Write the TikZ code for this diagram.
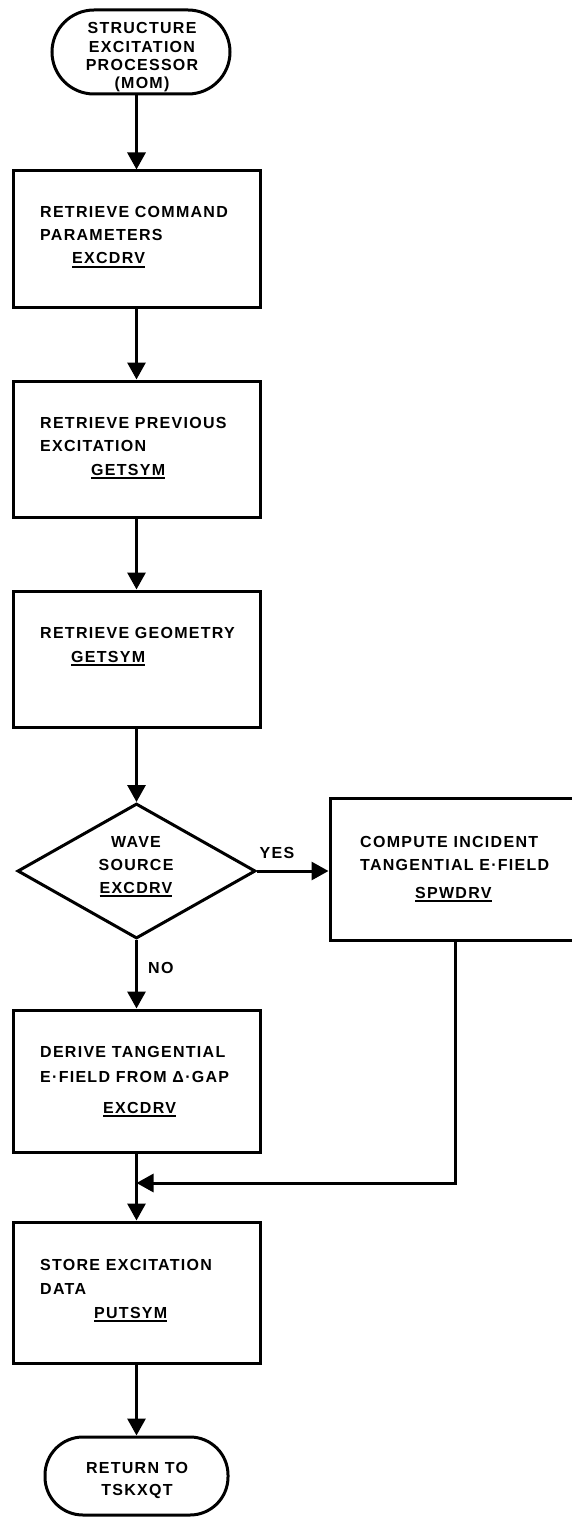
\documentclass[tikz,border=0pt]{standalone}
\usepackage{fontspec}
\setmainfont{Liberation Sans}[LetterSpace=8]
\usetikzlibrary{shapes.geometric,arrows.meta}
% underlined routine name
\newcommand\nm[1]{\setbox0\hbox{#1}\rlap{\rule[-3.8pt]{\wd0}{1.8pt}}\box0}
% one centred line of zero width
\newcommand\cl[1]{\hbox to 0pt{\hss#1\hss}}
\begin{document}
\begin{tikzpicture}[x=1pt,y=-1pt,
  line join=miter,
  shp/.style={draw, line width=3pt, inner sep=0pt},
  box/.style={shp, rectangle, minimum width=247pt},
  term/.style={shp, rectangle},
  txt/.style={inner sep=0pt, font=\fontsize{16}{19}\selectfont\bfseries},
  ltxt/.style={txt, anchor=base west},
  ctxt/.style={txt, anchor=base},
  arr/.style={line width=3pt, -{Triangle[length=17pt,width=18pt]}}]
\useasboundingbox (0,0) rectangle (572,1522);

% shapes
\node[term, minimum width=178pt, minimum height=84pt, rounded corners=42pt] (start) at (141,52) {};
\node[box, minimum height=136pt] (b1) at (136.5,239) {};
\node[box, minimum height=136pt] (b2) at (136.5,449) {};
\node[box, minimum height=136pt] (b3) at (136.5,659) {};
\node[shp, diamond, minimum width=238pt, minimum height=135pt] (dia) at (136.5,871) {};
\node[shp, rectangle, minimum width=250pt, minimum height=142pt] (rb) at (455,869) {};
\node[box, minimum height=142pt] (b4) at (136.5,1081) {};
\node[box, minimum height=141pt] (b5) at (136.5,1292.5) {};
\node[term, minimum width=183pt, minimum height=78pt, rounded corners=38pt] (ret) at (136.5,1476) {};

% texts
\node[ctxt] (tstart) at (142,34) {\vtop{\baselineskip=18.3pt
  \cl{STRUCTURE}\cl{EXCITATION}\cl{PROCESSOR}\cl{(MOM)}}};
\node[ltxt] (t1) at (40,218) {\vtop{\baselineskip=23pt
  \hbox{RETRIEVE COMMAND}\hbox{PARAMETERS}\hbox{\hskip32pt\nm{EXCDRV}}}};
\node[ltxt] (t2) at (40,428) {\vtop{\baselineskip=23.5pt
  \hbox{RETRIEVE PREVIOUS}\hbox{EXCITATION}\hbox{\hskip51pt\nm{GETSYM}}}};
\node[ltxt] (t3) at (40,638) {\vtop{\baselineskip=24pt
  \hbox{RETRIEVE GEOMETRY}\hbox{\hskip31pt\nm{GETSYM}}}};
\node[ctxt] (tdia) at (136,847) {\vtop{\baselineskip=23pt
  \cl{WAVE}\cl{SOURCE}\cl{\nm{EXCDRV}}}};
\node[ltxt] (trb) at (360,847) {\vtop{\baselineskip=23pt
  \hbox{COMPUTE INCIDENT}\hbox{TANGENTIAL E·FIELD}\vskip5pt\hbox{\hskip55pt\nm{SPWDRV}}}};
\node[ltxt] (t4) at (40,1057) {\vtop{\baselineskip=25pt
  \hbox{DERIVE TANGENTIAL}\hbox{E·FIELD FROM Δ·GAP}\vskip6pt\hbox{\hskip63pt\nm{EXCDRV}}}};
\node[ltxt] (t5) at (40,1270) {\vtop{\baselineskip=24pt
  \hbox{STORE EXCITATION}\hbox{DATA}\hbox{\hskip54pt\nm{PUTSYM}}}};
\node[ctxt] (tret) at (137,1473) {\vtop{\baselineskip=22pt
  \cl{RETURN TO}\cl{TSKXQT}}};
\node[ctxt] (yes) at (277,858) {YES};
\node[ltxt] (no) at (148,973) {NO};

% connectors
\coordinate (mj) at (136.5,1183);
\draw[arr] (start.south -| b1.north) -- (b1.north);
\draw[arr] (b1.south) -- (b2.north);
\draw[arr] (b2.south) -- (b3.north);
\draw[arr] (b3.south) -- (dia.north);
\draw[arr] (dia.east) -- (dia.east -| rb.west);
\draw[arr] (dia.south) -- (b4.north);
\draw[arr] (rb.south) |- (mj);
\draw[arr] (b4.south) -- (b5.north);
\draw[arr] (b5.south) -- (ret.north);
\end{tikzpicture}
\end{document}
